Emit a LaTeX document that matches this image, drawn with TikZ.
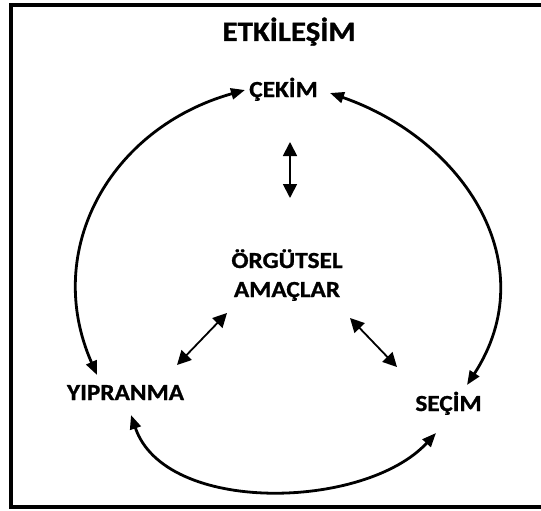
\documentclass[tikz,border=0pt]{standalone}
\usepackage{fontspec}
\setmainfont{Carlito}[FakeStretch=1.1, FakeBold=1]
\usetikzlibrary{arrows.meta}
\tikzset{
  lbl/.style={inner sep=0pt, anchor=base, font=\bfseries\fontsize{23}{29}\selectfont},
  ttl/.style={inner sep=0pt, anchor=base, font=\bfseries\fontsize{28}{30}\selectfont},
  loop/.style={line width=2.8pt, {Triangle[length=14pt,width=11pt]}-{Triangle[length=14pt,width=11pt]}},
  link/.style={line width=1.8pt, {Triangle[length=14pt,width=14pt]}-{Triangle[length=14pt,width=14pt]}},
  frame/.style={line width=4pt}
}
\begin{document}
\begin{tikzpicture}[x=1pt,y=-1pt]
\useasboundingbox (0,0) rectangle (541,511);
\clip (0,0) rectangle (541,511);
\draw[frame] (10.5,5) rectangle (548,507);
\node[ttl] (title) at (289,41) {ETKİLEŞİM};
\node[lbl] (cekim) at (283.5,97) {ÇEKİM};
\node[lbl, align=center] (amac) at (287,297) {ÖRGÜTSEL\\AMAÇLAR};
\node[lbl] (yip) at (125.5,400) {YIPRANMA};
\node[lbl] (secim) at (448.5,411) {SEÇİM};
% curve end points next to the labels
\coordinate (cekL) at (245,90);
\coordinate (cekR) at (330,93);
\coordinate (yipT) at (97,375);
\coordinate (yipB) at (131,415);
\coordinate (secT) at (467,385);
\coordinate (secB) at (436,433);
\coordinate (amT) at (290,142);
\coordinate (cekD) at (290,198);
\coordinate (amL) at (227,313);
\coordinate (yipR) at (177,365);
\coordinate (amR) at (350,318);
\coordinate (secL) at (397,367);
\draw[loop] (cekL) .. controls (110,128) and (42,250) .. (yipT);
\draw[loop] (cekR) .. controls (465,140) and (545,265) .. (secT);
\draw[loop] (yipB) .. controls (165,515) and (365,510) .. (secB);
\draw[link] (amT) -- (cekD);
\draw[link] (amL) -- (yipR);
\draw[link] (amR) -- (secL);
\end{tikzpicture}
\end{document}
